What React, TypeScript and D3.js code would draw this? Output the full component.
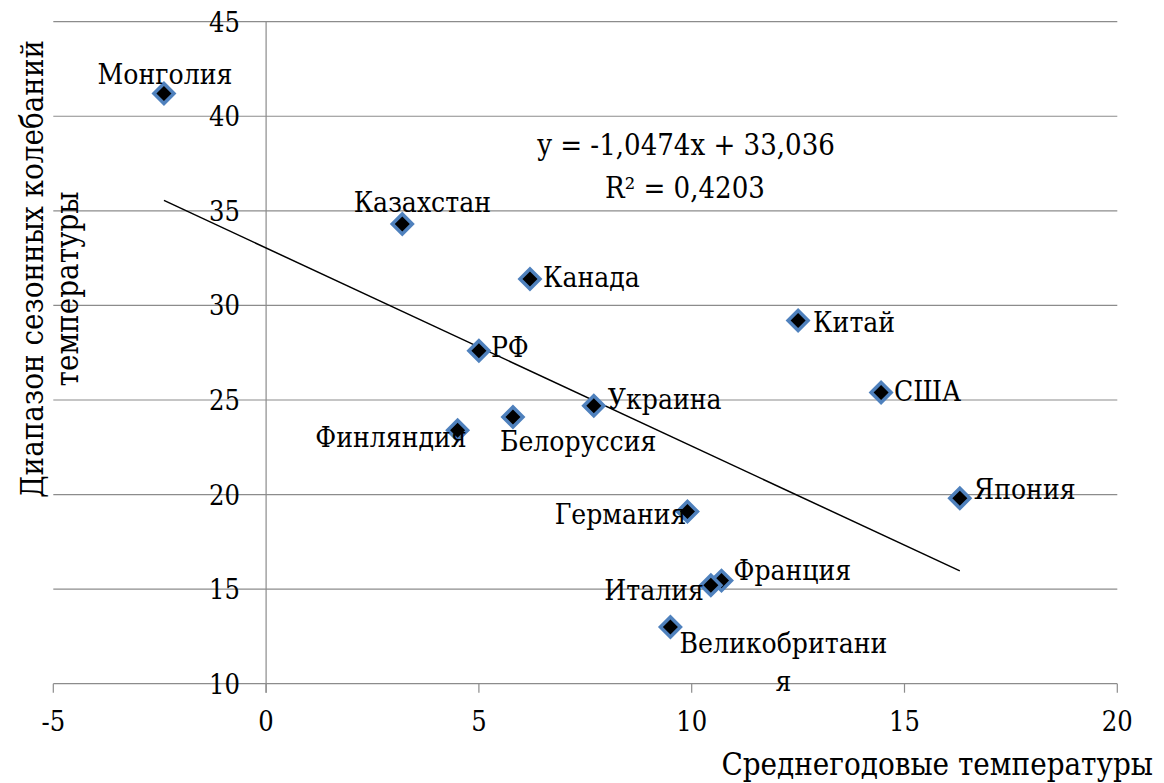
import React from "react";
import * as d3 from "d3";

// countries and their values
const countries = [
  "Монголия", "Казахстан", "Канада", "Китай", "США", "Япония", "РФ",
  "Украина", "Финляндия", "Белоруссия", "Германия", "Франция", "Италия",
  "Великобритания",
];
const meanTemp = [-2.4, 3.2, 6.2, 12.5, 14.45, 16.3, 5.0, 7.7, 4.5, 5.8, 9.9, 10.7, 10.45, 9.5];
const seasonRange = [41.2, 34.3, 31.4, 29.2, 25.4, 19.8, 27.6, 24.7, 23.4, 24.1, 19.1, 15.45, 15.2, 13.0];

const xTicks = [-5, 0, 5, 10, 15, 20];
const yTicks = [10, 15, 20, 25, 30, 35, 40, 45];

const slope = -1.0474;
const intercept = 33.036;
const equation = "y = -1,0474x + 33,036";
const rSquared = "R² = 0,4203";
const xTitle = "Среднегодовые температуры";
const yTitle = ["Диапазон сезонных колебаний", "температуры"];

// where each data label sits relative to its marker (anchor, dx, dy)
const labelPlacement: Record<string, [string, number, number]> = {
  "Монголия": ["middle", 1, -10],
  "Казахстан": ["middle", 20, -12],
  "Канада": ["start", 13, 8],
  "Китай": ["start", 15, 11],
  "США": ["start", 13, 9],
  "Япония": ["start", 14, 1],
  "РФ": ["start", 12, 6],
  "Украина": ["start", 14, 3],
  "Финляндия": ["end", 9, 17],
  "Белоруссия": ["start", -13, 34],
  "Германия": ["end", -1, 12],
  "Франция": ["start", 12, -1],
  "Италия": ["end", -7, 15],
  "Великобритания": ["middle", 113, 26],
};

const W = 1164;
const H = 783;
const FONT = '"DejaVu Serif Condensed", "DejaVu Serif", serif';

export default function App() {
  const x = d3.scaleLinear().domain([-5, 20]).range([53.3, 1117.3]);
  const y = d3.scaleLinear().domain([10, 45]).range([683.7, 21.7]);

  const diamond = d3.symbol().type(d3.symbolSquare).size(200)();

  const xMin = d3.min(meanTemp) as number;
  const xMax = d3.max(meanTemp) as number;
  const trend = d3.line<number>()
    .x(d => x(d))
    .y(d => y(slope * d + intercept))([xMin, xMax]);

  const x0 = x(0);
  const yBase = y(10);

  return (
    <svg width={W} height={H} style={{ position: "absolute", left: 0, top: 0, background: "#fff" }}
      fontFamily={FONT} fontStretch="condensed">
      <g stroke="#8c8c8c" strokeWidth={1.2}>
        {yTicks.map(t => (
          <line key={"g" + t} x1={x(-5)} x2={x(20)} y1={y(t)} y2={y(t)} />
        ))}
        <line x1={x0} x2={x0} y1={y(45)} y2={yBase + 9} />
        {xTicks.map(t => (
          <line key={"t" + t} x1={x(t)} x2={x(t)} y1={yBase} y2={yBase + 9} />
        ))}
      </g>

      <g fill="#000" fontSize={27}>
        {xTicks.map(t => (
          <text key={"xl" + t} x={x(t)} y={731} textAnchor="middle">{String(t)}</text>
        ))}
        {yTicks.map(t => (
          <text key={"yl" + t} x={240} y={y(t) + 10} textAnchor="end">{String(t)}</text>
        ))}
      </g>

      {/* trend line */}
      <path d={trend || ""} fill="none" stroke="#000" strokeWidth={1.5} />

      {/* markers */}
      {countries.map((c, i) => (
        <path key={"m" + c} d={diamond}
          transform={`translate(${x(meanTemp[i])},${y(seasonRange[i])}) rotate(45)`}
          fill="#000" stroke="#4f81bd" strokeWidth={3.5} />
      ))}

      {/* data labels */}
      <g fill="#000" fontSize={28}>
        {countries.map((c, i) => {
          const [anchor, dx, dy] = labelPlacement[c];
          const px = x(meanTemp[i]) + dx;
          const py = y(seasonRange[i]) + dy;
          const lines = c.length > 13 ? [c.slice(0, 13), c.slice(13)] : [c];
          return (
            <text key={"l" + c} x={px} y={py} textAnchor={anchor}>
              {lines.map((s, k) => (
                <tspan key={k} x={px} dy={k === 0 ? 0 : 38.5}>{s}</tspan>
              ))}
            </text>
          );
        })}
      </g>

      {/* regression equation */}
      <g fill="#000" fontSize={29} textAnchor="middle">
        <text x={686} y={155}>{equation}</text>
        <text x={685} y={198}>{rSquared}</text>
      </g>

      {/* axis titles */}
      <g fill="#000" fontSize={31}>
        <text x={1153} y={775} textAnchor="end">{xTitle}</text>
        <text transform="translate(43,269) rotate(-90)" textAnchor="middle">{yTitle[0]}</text>
        <text transform="translate(78,289) rotate(-90)" textAnchor="middle">{yTitle[1]}</text>
      </g>
    </svg>
  );
}
